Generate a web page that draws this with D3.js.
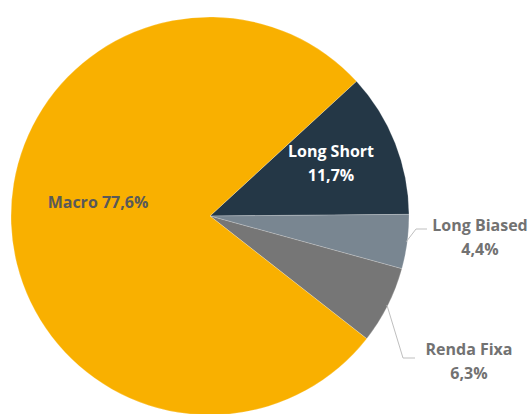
<!DOCTYPE html>
<html>
<head>
<meta charset="utf-8">
<script src="https://cdn.jsdelivr.net/npm/d3@7"></script>
<style>
  body { margin: 0; background: #fff; }
  svg { display: block; }
  text { font-family: "Open Sans", Lato, sans-serif; font-weight: bold; }
</style>
</head>
<body>
<div id="chart"></div>
<script>
// data
const categories = ["Long Short", "Long Biased", "Renda Fixa", "Macro"];
const values = [11.7, 4.4, 6.3, 77.6];
const colors = ["#243746", "#798691", "#767676", "#F9B000"];
const labels = [["Long Short", "11,7%"], ["Long Biased", "4,4%"], ["Renda Fixa", "6,3%"], ["Macro 77,6%"]];

const width = 530, height = 414;
const cx = 210, cy = 216, radius = 199;

const svg = d3.select("#chart")
  .append("svg")
  .attr("width", width)
  .attr("height", height);

const g = svg.append("g")
  .attr("transform", "translate(" + cx + "," + cy + ")");

const start = 47.4 * Math.PI / 180;
const pie = d3.pie().sort(null).value(d => d.value)
  .startAngle(start).endAngle(start + 2 * Math.PI);

const data = categories.map((c, i) => ({ key: c, value: values[i], color: colors[i], label: labels[i] }));
const arcs = pie(data);

const arc = d3.arc().innerRadius(0).outerRadius(radius);

g.selectAll(".slice")
  .data(arcs)
  .enter()
  .append("path")
  .attr("class", "slice")
  .attr("d", arc)
  .attr("fill", d => d.data.color)
  .attr("stroke", "rgba(255,255,255,0.35)")
  .attr("stroke-width", 0.6);

// label positions (relative to center), styles per label
const labelPos = {
  "Long Short": { x: 121, y: -59, fill: "#ffffff" },
  "Long Biased": { x: 270, y: 15, fill: "#727272" },
  "Renda Fixa": { x: 259, y: 139, fill: "#727272" },
  "Macro": { x: -112, y: -8, fill: "#595959" }
};

const lineH = 24;
arcs.forEach(d => {
  const p = labelPos[d.data.key];
  const t = g.append("text")
    .attr("x", p.x)
    .attr("y", p.y)
    .attr("text-anchor", "middle")
    .attr("font-size", 16)
    .attr("fill", p.fill);
  d.data.label.forEach((s, i) => {
    t.append("tspan").attr("x", p.x).attr("dy", i === 0 ? 0 : lineH).text(s);
  });
});

// leader lines for the small outside labels
const leaders = {
  "Long Biased": [206, 13, 217],
  "Renda Fixa": [193, 142, 205]
};
arcs.filter(d => leaders[d.data.key]).forEach(d => {
  const mid = (d.startAngle + d.endAngle) / 2;
  const sx = Math.sin(mid) * (radius - 1), sy = -Math.cos(mid) * (radius - 1);
  const l = leaders[d.data.key];
  g.append("polyline")
    .attr("points", [[sx, sy], [l[0], l[1]], [l[2], l[1]]].map(p => p.join(",")).join(" "))
    .attr("fill", "none")
    .attr("stroke", "#bfbfbf")
    .attr("stroke-width", 1);
});
</script>
</body>
</html>
